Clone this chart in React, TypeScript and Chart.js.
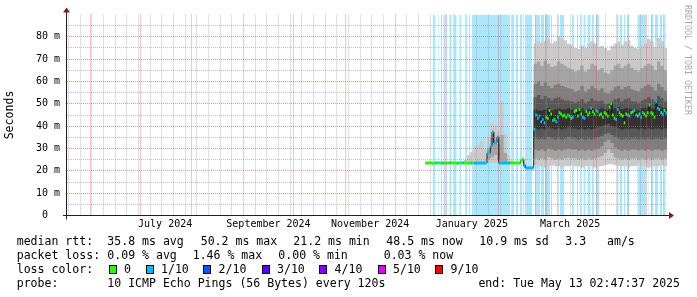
import { useEffect, useRef } from "react";
import { Chart, registerables } from "chart.js";

Chart.register(...registerables);

// ---------- axis / time frame (days since graph start) ----------
const graphStartUtc = Date.UTC(2024, 4, 18, 2, 47, 37);
const graphDays = 360;
const xTickLabels = ["July 2024", "September 2024", "November 2024", "January 2025", "March 2025"];
const xTickMonths = [[2024, 6], [2024, 8], [2024, 10], [2025, 0], [2025, 2]];
const yMax = 90;
const yLabelTicks = [0, 10, 20, 30, 40, 50, 60, 70, 80];
const yMinorTicks = [5, 15, 25, 35, 45, 55, 65, 75, 85];

// ---------- median rtt (ms), one value per day starting at medianStartDay ----------
const medianStartDay = 215;
const medianMs = [
  // days 215-243
  23.5, 23.5, 23.6, 23.5, 23.4, 23.5, 23.5, 23.5, 23.6, 23.5,
  23.5, 23.4, 23.5, 23.5, 23.5, 23.6, 23.5, 23.5, 23.4, 23.5,
  23.5, 23.5, 23.6, 23.5, 23.5, 23.5, 23.4, 23.5, 23.5,
  // 244-251
  23.5, 23.5, 23.5, 23.5, 23.5, 23.5, 23.5, 23.5,
  // 252-258
  28.0, 28.0, 31.0, 37.4, 32.5, 32.5, 35.2,
  // 259-271
  23.5, 23.5, 23.5, 23.5, 23.5, 23.5, 23.5, 23.5, 23.5, 23.5, 23.5, 23.5, 23.5,
  // 272-274
  24.5, 25.2, 22.5,
  // 275-280
  21.3, 21.3, 21.3, 21.3, 21.3, 38.5,
  // 281-359
  45.0, 43.5, 44.5, 42.0, 43.0, 41.5, 44.0, 43.5, 47.0, 45.5,
  42.5, 43.0, 42.0, 44.0, 46.0, 45.5, 44.5, 45.0, 44.0, 45.0,
  44.5, 43.5, 44.0, 46.5, 47.0, 44.5, 47.5, 45.5, 44.0, 43.5,
  46.5, 45.0, 46.0, 48.0, 46.5, 45.5, 47.0, 46.5, 45.0, 45.5,
  44.0, 46.0, 45.5, 44.5, 48.5, 50.0, 45.0, 43.5, 43.0, 47.5,
  46.0, 45.0, 44.5, 41.5, 45.5, 45.0, 44.5, 46.0, 46.5, 47.0,
  45.0, 44.5, 45.5, 44.0, 46.0, 45.5, 44.5, 46.0, 49.5, 46.0,
  45.5, 44.0, 51.0, 48.0, 47.5, 46.0, 45.5, 47.0, 46.0,
];
// packet loss (tenths) per day, same days as medianMs
const medianLoss = [
  0, 0, 0, 0, 0, 0, 1, 0, 0, 0, 1, 0, 0, 0, 1, 0, 0, 0, 0, 1, 0, 0, 1, 0, 0, 0, 0, 1, 0,
  1, 1, 1, 1, 1, 1, 1, 1,
  1, 1, 1, 1, 1, 1, 1,
  1, 1, 1, 1, 1, 1, 1, 0, 0, 0, 0, 0, 0,
  0, 0, 1,
  1, 1, 1, 1, 1, 1,
  1, 1, 1, 1, 1, 1, 0, 0, 0, 0,
  1, 0, 1, 1, 0, 0, 0, 0, 0, 1,
  0, 0, 1, 0, 0, 0, 0, 0, 1, 1,
  0, 0, 0, 1, 0, 0, 1, 1, 0, 0,
  0, 0, 0, 0, 0, 0, 0, 0, 1, 1,
  0, 0, 0, 0, 0, 1, 1, 0, 0, 1,
  1, 0, 0, 1, 1, 0, 0, 0, 0, 0,
  0, 0, 1, 1, 1, 0, 1, 0, 1,
];

// ---------- smoke (sorted ping percentiles, ms), 2-day slots from smokeStartDay ----------
const smokeStartDay = 238;
const smokeSlotDays = 2;
const smoke1Lo = [
  23.3, 23.3, 23.3, 23.3, 23.3, 23.3, 23.3, 23.5, 23.5, 23.5, 23.5, 23.3, 23.3, 23.3, 23.3, 23.3, 23.3, 23.3, 21.5, 21, 21,
  22.5, 22, 22, 21.5, 22, 22.5, 22, 22, 21.5, 22, 22, 22.5, 22, 22, 21.5, 22, 22, 22, 21.5, 22,
  22, 22.5, 23, 23, 22.5, 22, 22, 22, 21.5, 22, 22, 22.5, 22, 22, 21.5, 22, 22, 22, 22.5, 22,
];
const smoke1Hi = [
  25, 27, 28.5, 31, 31.5, 33.5, 30, 35, 41.5, 40, 38, 51, 36.5, 27, 24.5, 24, 24, 25.5, 23, 21.8, 22,
  77, 78, 77.5, 78, 79, 77, 78, 80, 79, 78.5, 77, 76.5, 75, 74.5, 76, 75, 77, 78, 77, 75.5,
  76, 75, 74, 76, 77, 78, 76.5, 78, 78.5, 76, 75, 74.5, 76, 77, 79, 78, 75.5, 79.5, 78, 75,
];
const smoke2Lo = [
  23.4, 23.4, 23.4, 23.4, 23.4, 23.4, 23.4, 25, 26, 27, 25, 24, 24, 23.4, 23.4, 23.4, 23.4, 23.4, 21.2, 21.2, 21.2,
  25.5, 25, 25.5, 25, 26, 25.5, 25, 25.5, 25, 25.5, 26, 25.5, 25.5, 25, 25.5, 25, 25.5, 25, 25.5, 26,
  26.5, 28, 29.5, 28, 26, 25.5, 25, 25.5, 25, 25.5, 25.5, 25, 25.5, 25, 25.5, 25, 25.5, 25.5, 25, 25.5,
];
const smoke2Hi = [
  23.4, 23.4, 23.4, 23.4, 23.4, 23.4, 23.4, 30, 35, 34, 32, 36, 28, 23.4, 23.4, 23.4, 23.4, 23.4, 21.2, 21.2, 21.2,
  68, 69, 67, 69.5, 68, 66.5, 67, 69, 68, 67, 66, 65.5, 64.5, 65, 67, 64.5, 65.5, 68, 67, 65,
  66, 64, 63.5, 65, 67, 68, 66, 67, 68, 66, 65, 64.5, 66, 67, 68, 67, 65, 69, 67, 65,
];
const smoke3Lo = [
  23.4, 23.4, 23.4, 23.4, 23.4, 23.4, 23.4, 23.4, 23.4, 23.4, 23.4, 23.4, 23.4, 23.4, 23.4, 23.4, 23.4, 23.4, 21.2, 21.2, 21.2,
  29.5, 29, 29.5, 29, 30, 29.5, 29, 29.5, 29, 29.5, 30, 29.5, 29.5, 29, 29.5, 29, 29.5, 29, 29.5, 30,
  31, 33, 34, 32.5, 30.5, 29.5, 29, 29.5, 29, 29.5, 29.5, 29, 29.5, 29, 29.5, 29, 29.5, 29.5, 29, 29.5,
];
const smoke3Hi = [
  23.4, 23.4, 23.4, 23.4, 23.4, 23.4, 23.4, 23.4, 23.4, 23.4, 23.4, 23.4, 23.4, 23.4, 23.4, 23.4, 23.4, 23.4, 21.2, 21.2, 21.2,
  59, 60, 58, 59.5, 58, 57, 58.5, 59, 58, 57.5, 57, 56.5, 55.5, 56, 58, 55.5, 56.5, 58, 57, 56,
  57, 55, 54.5, 56, 57.5, 58, 56.5, 57.5, 58, 56.5, 56, 55.5, 57, 58, 58.5, 57.5, 56, 59, 57.5, 56,
];
const smoke4Lo = [
  23.4, 23.4, 23.4, 23.4, 23.4, 23.4, 23.4, 23.4, 23.4, 23.4, 23.4, 23.4, 23.4, 23.4, 23.4, 23.4, 23.4, 23.4, 21.2, 21.2, 21.2,
  34.5, 34, 34.5, 34, 35, 34.5, 34, 34.5, 34, 34.5, 35, 34.5, 34.5, 34, 34.5, 34, 34.5, 34, 34.5, 35,
  35.5, 36.5, 37, 36, 35, 34.5, 34, 34.5, 34, 34.5, 34.5, 34, 34.5, 34, 34.5, 34, 34.5, 34.5, 34, 34.5,
];
const smoke4Hi = [
  23.4, 23.4, 23.4, 23.4, 23.4, 23.4, 23.4, 23.4, 23.4, 23.4, 23.4, 23.4, 23.4, 23.4, 23.4, 23.4, 23.4, 23.4, 21.2, 21.2, 21.2,
  53, 54, 52, 53.5, 52.5, 51.5, 52.5, 53, 52, 51.5, 51.5, 51, 50.5, 51, 52, 50.5, 51, 52.5, 51.5, 51,
  51.5, 50, 50, 51, 52, 52.5, 51, 52, 52.5, 51, 51, 50.5, 51.5, 52, 53, 52, 51, 53.5, 52.5, 51,
];
const smoke5Lo = [
  23.4, 23.4, 23.4, 23.4, 23.4, 23.4, 23.4, 23.4, 23.4, 23.4, 23.4, 23.4, 23.4, 23.4, 23.4, 23.4, 23.4, 23.4, 21.2, 21.2, 21.2,
  39, 38.5, 39, 38.5, 39.5, 39, 38.5, 39, 38.5, 39, 39.5, 39, 39, 38.5, 39, 38.5, 39, 38.5, 39, 39.5,
  40, 40.5, 41, 40, 39.5, 39, 38.5, 39, 38.5, 39, 39, 38.5, 39, 38.5, 39, 38.5, 39, 39, 38.5, 39,
];
const smoke5Hi = [
  23.4, 23.4, 23.4, 23.4, 23.4, 23.4, 23.4, 23.4, 23.4, 23.4, 23.4, 23.4, 23.4, 23.4, 23.4, 23.4, 23.4, 23.4, 21.2, 21.2, 21.2,
  47.5, 47, 47, 47.5, 48, 47, 47.5, 48, 47.5, 47.5, 48, 47.5, 47, 47.5, 48, 47, 47.5, 48, 47.5, 47.5,
  48, 47.5, 47, 47.5, 48, 48.5, 47.5, 48, 48, 47.5, 47.5, 47, 48, 48, 48.5, 48, 47.5, 49, 48.5, 48,
];

// ---------- loss background periods (days) ----------
const lossSpanStart = [
  219.4, 222.8, 224.2, 225.8, 229.4, 232.2, 235.4, 239.4, 241.2, 242.8, 266.8, 269.4, 271.8, 274.8,
  280.8, 284.2, 286.8, 290.4, 293.8, 295.8, 302.8, 305.8, 307.8, 309.8, 312.2, 314.8, 317.4,
  329.8, 331.8, 334.2, 335.8, 342.2, 348.4, 350.2, 352.8, 355.8, 357.8,
];
const lossSpanEnd = [
  220.8, 223.4, 224.8, 227.4, 230.8, 233.8, 236.4, 240.2, 241.8, 265.8, 268.2, 270.8, 273.2, 279.2,
  283.8, 286.2, 289.8, 291.2, 294.8, 298.2, 304.2, 306.8, 308.6, 311.2, 314.2, 315.8, 319.2,
  331.0, 333.2, 334.8, 337.4, 347.4, 349.0, 351.8, 354.6, 357.2, 359.2,
];

// ---------- legend text ----------
const rttTitle = "median rtt:";
const rttItems = ["35.8 ms avg", "50.2 ms max", "21.2 ms min", "48.5 ms now", "10.9 ms sd", "3.3", "am/s"];
const lossTitle = "packet loss:";
const lossItems = ["0.09 % avg", "1.46 % max", "0.00 % min", "0.03 % now"];
const lossColorTitle = "loss color:";
const lossColorLabels = ["0", "1/10", "2/10", "3/10", "4/10", "5/10", "9/10"];
const probeTitle = "probe:";
const probeText = "10 ICMP Echo Pings (56 Bytes) every 120s";
const endText = "end: Tue May 13 02:47:37 2025";
const watermarkText = "RRDTOOL / TOBI OETIKER";
const yTitle = "Seconds";

// ---------- styles ----------
const MONO = "'DejaVu Sans Mono', monospace";
const lossColors = ["#26ff00", "#00b8ff", "#0059ff", "#5e00ff", "#7e00ff", "#dd00ff", "#ff0000"];
const smokeColors = ["#cacaca", "#a4a4a4", "#7e7e7e", "#585858", "#323232"];
const lossBgColor = "rgb(172,230,252)";
const minorGrid = "rgba(143,143,143,0.55)";
const majorGrid = "rgba(222,79,79,0.6)";
const rttX = [107.3, 200.7, 293.3, 386.3, 479.3, 565.3, 607];
const lossX = [107.3, 192.7, 278.3, 383.7];
const boxX = [108.7, 145.7, 203.3, 261.7, 319.3, 377.7, 435.3];
const rowTop = [234, 248, 262.3, 275.7];

const DAY_MS = 86400000;
const dayOf = (y: number, m: number, d: number) => (Date.UTC(y, m, d) - graphStartUtc) / DAY_MS;

type Pt = { x: number; y: number | null };

function slotPolyline(start: number, width: number, vals: number[]): Pt[] {
  const pts: Pt[] = [];
  vals.forEach((v, i) => {
    pts.push({ x: start + i * width, y: v });
    pts.push({ x: start + (i + 1) * width, y: v });
  });
  return pts;
}

function lossRun(level: number): Pt[] {
  const pts: Pt[] = [];
  let prev: number | null = null;
  medianMs.forEach((m, i) => {
    const x0 = medianStartDay + i;
    if (medianLoss[i] !== level) {
      if (prev !== null) pts.push({ x: x0, y: null });
      prev = null;
      return;
    }
    if (prev !== m) {
      if (prev !== null) pts.push({ x: x0, y: null });
      pts.push({ x: x0, y: m });
    }
    pts.push({ x: x0 + 1, y: m });
    prev = m;
  });
  return pts;
}

function buildXTicks() {
  const months: number[] = [];
  let y = 2024, m = 5;
  for (;;) {
    const v = dayOf(y, m, 1);
    if (v > graphDays) break;
    months.push(v);
    m++;
    if (m > 11) { m = 0; y++; }
  }
  const ticks: any[] = [];
  for (let v = dayOf(2024, 4, 19); v < graphDays; v += 7) {
    if (!months.some((mv) => Math.abs(mv - v) < 0.01)) ticks.push({ value: v, kind: "w", text: "" });
  }
  months.forEach((v) => ticks.push({ value: v, kind: "m", text: "" }));
  xTickMonths.forEach(([yy, mm], i) => {
    const v = dayOf(yy, mm, 1) + 15;
    if (v < graphDays) ticks.push({ value: v, kind: "l", text: xTickLabels[i] });
  });
  ticks.sort((a, b) => a.value - b.value);
  return ticks;
}

const axesPlugin = {
  id: "rrdAxes",
  afterDraw(chart: any) {
    const { ctx, chartArea: a } = chart;
    ctx.save();
    ctx.strokeStyle = "#1f1f1f";
    ctx.lineWidth = 1;
    ctx.beginPath();
    ctx.moveTo(a.left - 4, a.bottom);
    ctx.lineTo(a.right + 4, a.bottom);
    ctx.moveTo(a.left - 0.5, a.bottom + 4);
    ctx.lineTo(a.left - 0.5, a.top - 4);
    ctx.stroke();
    ctx.fillStyle = "#801f1f";
    ctx.beginPath();
    ctx.moveTo(a.right + 2, a.bottom - 3.5);
    ctx.lineTo(a.right + 2, a.bottom + 3.5);
    ctx.lineTo(a.right + 7, a.bottom);
    ctx.closePath();
    ctx.fill();
    ctx.beginPath();
    ctx.moveTo(a.left - 4, a.top - 2);
    ctx.lineTo(a.left + 3, a.top - 2);
    ctx.lineTo(a.left - 0.5, a.top - 7);
    ctx.closePath();
    ctx.fill();
    ctx.restore();
  },
};

export default function App() {
  const ref = useRef<HTMLCanvasElement>(null);

  useEffect(() => {
    if (!ref.current) return;
    Chart.defaults.font.family = MONO;

    const lossBgPts: Pt[] = [];
    lossSpanStart.forEach((a, i) => {
      lossBgPts.push({ x: a, y: yMax }, { x: lossSpanEnd[i], y: yMax }, { x: lossSpanEnd[i], y: null });
    });

    const bands = [
      [smoke1Lo, smoke1Hi],
      [smoke2Lo, smoke2Hi],
      [smoke3Lo, smoke3Hi],
      [smoke4Lo, smoke4Hi],
      [smoke5Lo, smoke5Hi],
    ];

    const base = { pointRadius: 0, pointHoverRadius: 0, tension: 0, spanGaps: false };
    const datasets: any[] = [];
    datasets.push({ ...base, data: lossBgPts, borderWidth: 0, borderColor: "rgba(0,0,0,0)", fill: "start", backgroundColor: lossBgColor, order: 100 });
    bands.forEach(([lo, hi], k) => {
      datasets.push({ ...base, data: slotPolyline(smokeStartDay, smokeSlotDays, lo), borderWidth: 0, borderColor: "rgba(0,0,0,0)", fill: false, order: 60 - k });
      datasets.push({ ...base, data: slotPolyline(smokeStartDay, smokeSlotDays, hi), borderWidth: 0, borderColor: "rgba(0,0,0,0)", fill: "-1", backgroundColor: smokeColors[k], order: 60 - k });
    });
    datasets.push({ ...base, data: slotPolyline(medianStartDay, 1, medianMs), borderWidth: 1, borderColor: "#202020", fill: false, order: 2 });
    [0, 1, 2].forEach((lvl) => {
      datasets.push({ ...base, data: lossRun(lvl), borderWidth: 3, borderColor: lossColors[lvl], borderCapStyle: "butt", fill: false, order: 1 });
    });

    const xTicks = buildXTicks();

    const chart = new Chart(ref.current, {
      type: "line",
      data: { datasets },
      options: {
        responsive: false,
        animation: false,
        events: [],
        devicePixelRatio: 1,
        layout: { padding: { left: 0, right: 30, top: 14.5, bottom: 0 } },
        plugins: { legend: { display: false }, tooltip: { enabled: false } },
        scales: {
          x: {
            type: "linear",
            min: 0,
            max: graphDays,
            afterBuildTicks: (s: any) => { s.ticks = xTicks.map((t) => ({ ...t })); },
            afterFit: (s: any) => { s.height = 81.5; },
            grid: {
              z: 1,
              drawTicks: false,
              color: (c: any) => (c.tick && c.tick.kind === "m" ? majorGrid : c.tick && c.tick.kind === "w" ? minorGrid : "rgba(0,0,0,0)"),
            },
            border: { display: false, dash: [1, 1] },
            ticks: {
              autoSkip: false,
              maxRotation: 0,
              minRotation: 0,
              padding: 3,
              color: "#000",
              font: { family: MONO, size: 10 },
              callback: (_v: any, i: number, ticks: any[]) => ticks[i].text || "",
            },
          },
          y: {
            type: "linear",
            min: 0,
            max: yMax,
            afterBuildTicks: (s: any) => {
              s.ticks = [...yLabelTicks, ...yMinorTicks].sort((a, b) => a - b).map((v) => ({ value: v }));
            },
            afterFit: (s: any) => { s.width = 67; },
            grid: {
              z: 1,
              drawTicks: false,
              color: (c: any) => (c.tick && yLabelTicks.includes(c.tick.value) ? majorGrid : minorGrid),
            },
            border: { display: false, dash: [1, 1] },
            title: { display: true, text: yTitle, color: "#000", font: { family: MONO, size: 11.55 }, padding: { top: 3.5, bottom: 0 } },
            ticks: {
              autoSkip: false,
              padding: 7,
              color: "#000",
              font: { family: MONO, size: 10 },
              callback: (v: any) => (yLabelTicks.includes(v) ? (v === 0 ? "0  " : `${v} m`) : ""),
            },
          },
        },
      },
      plugins: [axesPlugin],
    } as any);
    return () => chart.destroy();
  }, []);

  const text: any = { position: "absolute", whiteSpace: "pre", fontFamily: MONO, fontSize: "11.55px", lineHeight: "14px", color: "#000" };

  return (
    <div style={{ position: "fixed", left: 0, top: 0, width: 697, height: 297, background: "#fff", overflow: "hidden" }}>
      <canvas ref={ref} width={697} height={297} style={{ position: "absolute", left: 0, top: 0 }} />
      <span style={{ ...text, left: 16.7, top: rowTop[0] }}>{rttTitle}</span>
      {rttItems.map((t, i) => (
        <span key={"r" + i} style={{ ...text, left: rttX[i], top: rowTop[0] }}>{t}</span>
      ))}
      <span style={{ ...text, left: 16.7, top: rowTop[1] }}>{lossTitle}</span>
      {lossItems.map((t, i) => (
        <span key={"l" + i} style={{ ...text, left: lossX[i], top: rowTop[1] }}>{t}</span>
      ))}
      <span style={{ ...text, left: 16.7, top: rowTop[2] }}>{lossColorTitle}</span>
      {lossColorLabels.map((t, i) => (
        <span key={"c" + i}>
          <span style={{ position: "absolute", left: boxX[i], top: rowTop[2] + 3, width: 6, height: 7, background: lossColors[i], border: "1px solid #000" }} />
          <span style={{ ...text, left: boxX[i] + 15.3, top: rowTop[2] }}>{t}</span>
        </span>
      ))}
      <span style={{ ...text, left: 16.7, top: rowTop[3] }}>{probeTitle}</span>
      <span style={{ ...text, left: 107.3, top: rowTop[3] }}>{probeText}</span>
      <span style={{ ...text, right: 697 - 680, top: rowTop[3] }}>{endText}</span>
      <div style={{ position: "absolute", left: 682.5, top: 5, writingMode: "vertical-rl", fontFamily: MONO, fontSize: "8.3px", lineHeight: "9px", color: "#aaaaaa", whiteSpace: "pre" }}>
        {watermarkText}
      </div>
    </div>
  );
}
